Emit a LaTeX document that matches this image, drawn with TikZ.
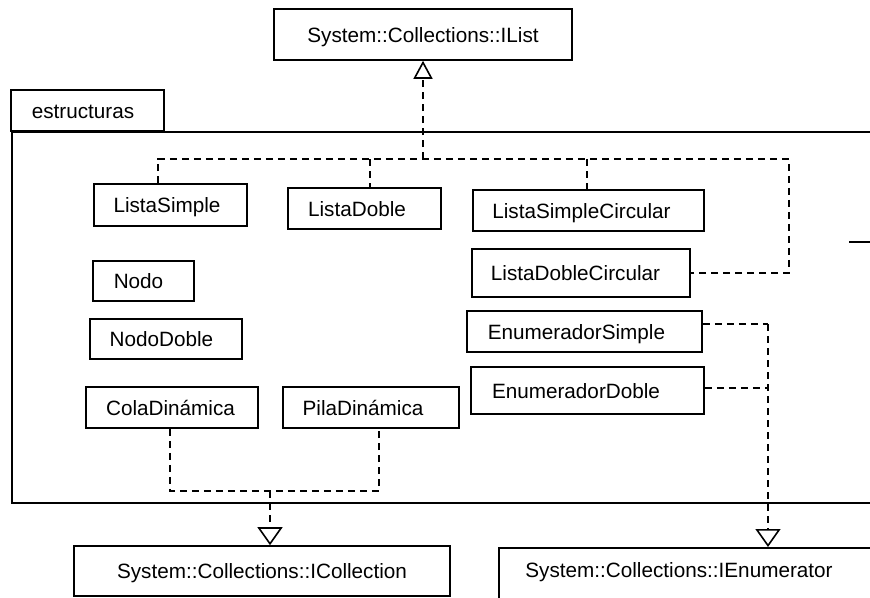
\documentclass[tikz,border=0pt]{standalone}
\usepackage{fontspec}
\setmainfont{Liberation Sans}
\usetikzlibrary{arrows.meta}
\newcommand{\padr}[2]{#1\hspace*{#2pt}}
\begin{document}
\begin{tikzpicture}[x=1pt,y=-1pt,
  box/.style={draw, line width=1.6pt, rectangle, inner sep=0pt, text height=15pt, text depth=0pt,
    font=\fontsize{20.7}{25}\selectfont},
  dep/.style={line width=1.6pt, dash pattern=on 7pt off 5pt},
  realize/.style={dep, -{Triangle[open, length=18pt, width=25pt, line width=1.6pt]}},
  realizesmall/.style={dep, -{Triangle[open, length=18pt, width=19pt, line width=1.6pt]}},
  lbl/.style={inner sep=0pt, text height=15pt, text depth=0pt, font=\fontsize{20.7}{25}\selectfont}]
\useasboundingbox (0,0) rectangle (870,597);
\clip (0,0) rectangle (870,597);
\fill[white] (0,0) rectangle (870,597);

% package
\node[box, anchor=north west, minimum width=900pt, minimum height=371pt] (pkg) at (11,131) {};
\node[box, minimum width=153pt, minimum height=41pt] (tab) at (87.5,110.5) {\padr{estructuras}{9}};

% interfaces
\node[box, minimum width=298pt, minimum height=51pt] (ilist) at (423,34.5) {System::Collections::IList};
\node[box, minimum width=376pt, minimum height=50pt] (icoll) at (262,571) {System::Collections::ICollection};
\node[box, anchor=north west, minimum width=420pt, minimum height=80pt] (ienum) at (498,547) {};
\node[lbl] (ienumtxt) at (679,570) {System::Collections::IEnumerator};

% classes
\node[box, minimum width=153pt, minimum height=42pt] (lsimple) at (170.5,205) {\padr{ListaSimple}{7}};
\node[box, minimum width=153pt, minimum height=41pt] (ldoble) at (364.5,208.5) {\padr{ListaDoble}{15}};
\node[box, minimum width=231pt, minimum height=41pt] (lsc) at (588.5,210.5) {\padr{ListaSimpleCircular}{14}};
\node[box, minimum width=218pt, minimum height=48pt] (ldc) at (581,273) {\padr{ListaDobleCircular}{11}};
\node[box, minimum width=101pt, minimum height=40pt] (nodo) at (143.5,281) {\padr{Nodo}{10}};
\node[box, minimum width=152pt, minimum height=40pt] (nododoble) at (166,339) {\padr{NodoDoble}{9}};
\node[box, minimum width=172pt, minimum height=41pt] (cola) at (172,407.5) {\padr{ColaDinámica}{3}};
\node[box, minimum width=176pt, minimum height=41pt] (pila) at (371,407.5) {\padr{PilaDinámica}{16}};
\node[box, minimum width=235pt, minimum height=41pt] (esimple) at (584.5,331.5) {\padr{EnumeradorSimple}{16}};
\node[box, minimum width=233pt, minimum height=47pt] (edoble) at (587.5,390.5) {\padr{EnumeradorDoble}{23}};

% IList realizations
\coordinate (jl) at (423,159);
\coordinate (bl) at (158,159);
\coordinate (br) at (789,159);
\coordinate (bd) at (370,159);
\coordinate (bsc) at (587,159);
\draw[realizesmall] (jl) -- (ilist);
\draw[dep] (lsimple.north -| bl) -- (bl) -- (br) |- (ldc.east);
\draw[dep] (bd) -- (bd |- ldoble.north);
\draw[dep] (bsc) -- (bsc |- lsc.north);

% ICollection realizations
\coordinate (cb1) at (170,491);
\coordinate (cb2) at (379,491);
\coordinate (cm) at (270,491);
\draw[dep] (cb1 |- cola.south) -- (cb1) -- (cb2) -- (cb2 |- pila.south);
\draw[realize] (cm) -- (cm |- icoll.north);

% IEnumerator realizations
\coordinate (ej) at (768,324);
\coordinate (ed) at (768,388);
\draw[dep] (ej -| esimple.east) -- (ej);
\draw[realize] (ej) -- (ej |- ienum.north);
\draw[dep] (ed -| edoble.east) -- (ed);

% short fragment at right
\coordinate (s1) at (849,242);
\coordinate (s2) at (875,242);
\draw[line width=1.6pt] (s1) -- (s2);
\end{tikzpicture}
\end{document}
